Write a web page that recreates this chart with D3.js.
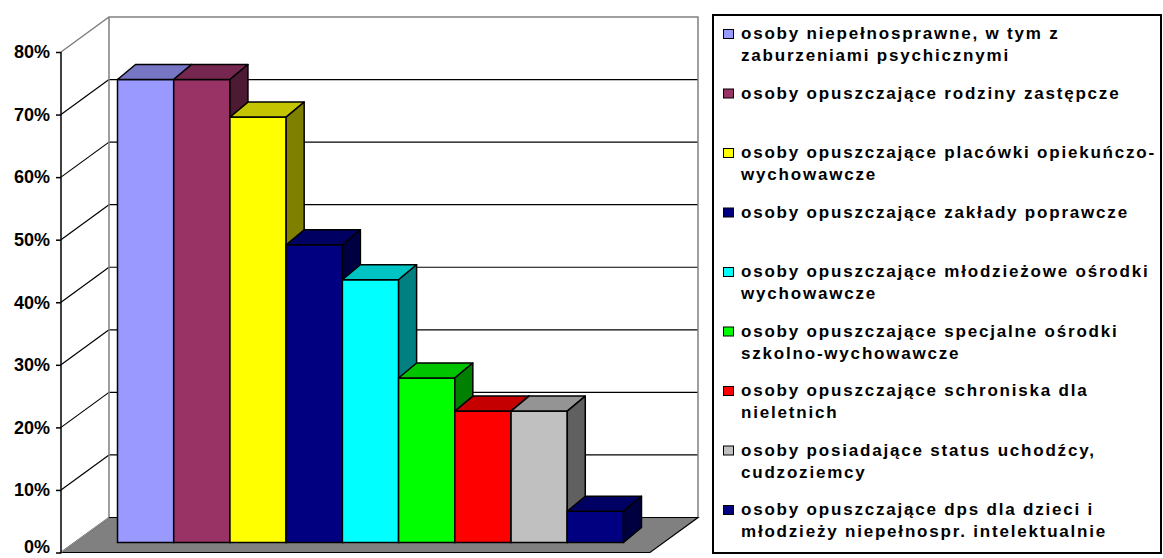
<!DOCTYPE html>
<html>
<head>
<meta charset="utf-8">
<script src="https://cdn.jsdelivr.net/npm/d3@7"></script>
<style>
    body { margin: 0; background: #ffffff; }
    .legendText { font-family: "Liberation Sans", Arial, sans-serif; font-weight: bold; font-size: 17px; letter-spacing: 1.8px; }
    .yAxis text { font-family: "Liberation Sans", Arial, sans-serif; font-weight: bold; font-size: 18px; fill: #000; }
</style>
</head>
<body>
<div id="chart"></div>
<script>
// Data
let seriesNames = [
    "osoby niepełnosprawne, w tym z zaburzeniami psychicznymi",
    "osoby opuszczające rodziny zastępcze",
    "osoby opuszczające placówki opiekuńczo-wychowawcze",
    "osoby opuszczające zakłady poprawcze",
    "osoby opuszczające młodzieżowe ośrodki wychowawcze",
    "osoby opuszczające specjalne ośrodki szkolno-wychowawcze",
    "osoby opuszczające schroniska dla nieletnich",
    "osoby posiadające status uchodźcy, cudzoziemcy",
    "osoby opuszczające dps dla dzieci i młodzieży niepełnospr. intelektualnie"
];
// legend lines, wrapped as in the original
let legendLines = [
    ["osoby niepełnosprawne, w tym z", "zaburzeniami psychicznymi"],
    ["osoby opuszczające rodziny zastępcze"],
    ["osoby opuszczające placówki opiekuńczo-", "wychowawcze"],
    ["osoby opuszczające zakłady poprawcze"],
    ["osoby opuszczające młodzieżowe ośrodki", "wychowawcze"],
    ["osoby opuszczające specjalne ośrodki", "szkolno-wychowawcze"],
    ["osoby opuszczające schroniska dla", "nieletnich"],
    ["osoby posiadające status uchodźcy,", "cudzoziemcy"],
    ["osoby opuszczające dps dla dzieci i", "młodzieży niepełnospr. intelektualnie"]
];
let values = [0.74, 0.74, 0.68, 0.476, 0.42, 0.263, 0.21, 0.21, 0.05];
let colors = ["#9999FF", "#993366", "#FFFF00", "#000080", "#00FFFF", "#00FF00", "#FF0000", "#C0C0C0", "#000080"];
let yTicks = [0, 0.1, 0.2, 0.3, 0.4, 0.5, 0.6, 0.7, 0.8];

// Layout
let width = 1163;
let height = 558;
let plotLeft = 61;
let plotRight = 650;
// depth of the floor / walls
let depthX = 48;
let depthY = 35;
// bar placement inside the depth
let barOffX = 13.5;
let barOffY = 10;
let barDX = 18;
let barDY = 15;

let svg = d3
    .select("#chart")
    .append("svg")
    .attr("width", width)
    .attr("height", height);

let yScale = d3.scaleLinear().domain([0, 0.8]).range([552.5, 52]);
let xScale = d3
    .scaleBand()
    .domain(d3.range(values.length))
    .range([104, 610])
    .padding(0);

// Back wall
let backTop = yScale(0.8) - depthY;
let backBot = yScale(0) - depthY;
svg.append("rect")
    .attr("x", plotLeft + depthX)
    .attr("y", backTop)
    .attr("width", plotRight - plotLeft)
    .attr("height", backBot - backTop)
    .attr("fill", "#ffffff");

// Gridlines: diagonal on left wall, horizontal on back wall
yTicks.filter(function(t) { return t > 0 && t < 0.8; }).forEach(function(t) {
    svg.append("line")
        .attr("x1", plotLeft).attr("y1", yScale(t))
        .attr("x2", plotLeft + depthX).attr("y2", yScale(t) - depthY)
        .attr("stroke", "#000").attr("stroke-width", 1.2);
    svg.append("line")
        .attr("x1", plotLeft + depthX).attr("y1", yScale(t) - depthY)
        .attr("x2", plotRight + depthX).attr("y2", yScale(t) - depthY)
        .attr("stroke", "#000").attr("stroke-width", 1.2);
});

// Wall outlines (grey)
svg.append("path")
    .attr("d", "M" + plotLeft + "," + yScale(0.8) +
        "L" + (plotLeft + depthX) + "," + backTop +
        "L" + (plotRight + depthX) + "," + backTop +
        "L" + (plotRight + depthX) + "," + backBot +
        "M" + (plotLeft + depthX) + "," + backTop +
        "L" + (plotLeft + depthX) + "," + backBot)
    .attr("fill", "none")
    .attr("stroke", "#808080")
    .attr("stroke-width", 1.5);

// Floor
svg.append("path")
    .attr("d", "M" + plotLeft + "," + yScale(0) +
        "L" + plotRight + "," + yScale(0) +
        "L" + (plotRight + depthX) + "," + backBot +
        "L" + (plotLeft + depthX) + "," + backBot + "Z")
    .attr("fill", "#808080")
    .attr("stroke", "#000")
    .attr("stroke-width", 1.2);
svg.append("line")
    .attr("x1", plotLeft).attr("y1", yScale(0))
    .attr("x2", plotLeft + depthX).attr("y2", backBot)
    .attr("stroke", "#a0a0a0").attr("stroke-width", 1.2);

// Bars
function shade(c, k) {
    let r = d3.rgb(c);
    return d3.rgb(r.r * k, r.g * k, r.b * k).toString();
}

let bars = svg.selectAll("g.bar")
    .data(values)
    .enter()
    .append("g")
    .attr("class", "bar");

bars.each(function(v, i) {
    let g = d3.select(this);
    let x0 = xScale(i) + barOffX;
    let x1 = x0 + xScale.bandwidth();
    let yt = yScale(v) - barOffY;
    let yb = yScale(0) - barOffY;
    // front
    g.append("rect")
        .attr("x", x0).attr("y", yt)
        .attr("width", x1 - x0).attr("height", yb - yt)
        .attr("fill", colors[i])
        .attr("stroke", "#000").attr("stroke-width", 1.5);
    // top
    g.append("path")
        .attr("d", "M" + x0 + "," + yt + "L" + x1 + "," + yt +
            "L" + (x1 + barDX) + "," + (yt - barDY) +
            "L" + (x0 + barDX) + "," + (yt - barDY) + "Z")
        .attr("fill", shade(colors[i], 0.77))
        .attr("stroke", "#000").attr("stroke-width", 1.5)
        .attr("stroke-linejoin", "round");
    // side
    g.append("path")
        .attr("d", "M" + x1 + "," + yt + "L" + (x1 + barDX) + "," + (yt - barDY) +
            "L" + (x1 + barDX) + "," + (yb - barDY) +
            "L" + x1 + "," + yb + "Z")
        .attr("fill", shade(colors[i], 0.5))
        .attr("stroke", "#000").attr("stroke-width", 1.5)
        .attr("stroke-linejoin", "round");
});

// Front Y axis
let yAxis = d3.axisLeft(yScale)
    .tickValues(yTicks)
    .tickFormat(d3.format(".0%"))
    .tickSize(5)
    .tickSizeOuter(0)
    .tickPadding(6);
svg.append("g")
    .attr("class", "yAxis")
    .attr("transform", "translate(" + plotLeft + ",0)")
    .call(yAxis);
svg.selectAll(".yAxis path, .yAxis line")
    .attr("stroke", "#000")
    .attr("stroke-width", 1.5);
svg.select(".yAxis .domain").attr("d", "M0," + yScale(0.8) + "V" + (yScale(0) + 1));
// keep the 0% label inside the picture
svg.selectAll(".yAxis .tick text")
    .filter(function(d) { return d === 0; })
    .attr("y", -6);

// Legend
let legX = 713;
let legY = 15;
svg.append("rect")
    .attr("x", legX).attr("y", legY)
    .attr("width", 448).attr("height", 538)
    .attr("fill", "#fff")
    .attr("stroke", "#000")
    .attr("stroke-width", 2);

let entryGap = 59.5;
let lineGap = 22;
let legend = svg.selectAll("g.legItem")
    .data(seriesNames)
    .enter()
    .append("g")
    .attr("class", "legItem")
    .attr("transform", function(d, i) {
        return "translate(" + legX + "," + (39 + i * entryGap) + ")";
    });

legend.append("rect")
    .attr("x", 10.5).attr("y", -9.5)
    .attr("width", 10).attr("height", 9)
    .attr("fill", function(d, i) { return colors[i]; })
    .attr("stroke", "#000")
    .attr("stroke-width", 1);

legend.append("text")
    .attr("class", "legendText")
    .attr("x", 28)
    .attr("y", 0)
    .selectAll("tspan")
    .data(function(d, i) { return legendLines[i]; })
    .enter()
    .append("tspan")
    .attr("x", 28)
    .attr("dy", function(d, j) { return j === 0 ? 0 : lineGap; })
    .text(function(d) { return d; });
</script>
</body>
</html>
